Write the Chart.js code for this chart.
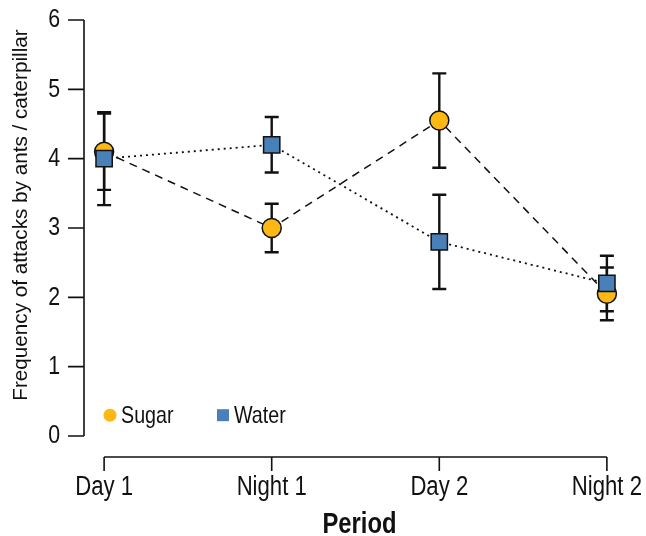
<!DOCTYPE html>
<html>
<head>
<meta charset="utf-8">
<script src="https://cdn.jsdelivr.net/npm/chart.js@4/dist/chart.umd.min.js"></script>
<style>
  html, body { margin: 0; padding: 0; background: #fff; }
  #wrap { width: 646px; height: 536px; }
</style>
</head>
<body>
<div id="wrap"><canvas id="chart" width="646" height="536"></canvas></div>
<script>
/**
 *  Data
 */
var periods = ["Day 1", "Night 1", "Day 2", "Night 2"];
var sugar_mean = [4.1, 3.0, 4.55, 2.05];
var sugar_err = [0.55, 0.35, 0.68, 0.38];
var water_mean = [4.0, 4.2, 2.8, 2.2];
var water_err = [0.67, 0.4, 0.68, 0.4];
var y_ticks = [0, 1, 2, 3, 4, 5, 6];

var sugar_color = "#FDB813";
var water_color = "#4A80B8";
var font_name = "'Liberation Sans', Arial, sans-serif";
var narrow = 0.82; // no narrow font installed, squeeze the glyphs instead

var toPoints = function (values) {
    return values.map(function (v, i) { return { x: i, y: v }; });
};

// condensed text: x, y is the anchor, angle in radians
var drawText = function (ctx, text, x, y, font, align, angle, sx, baseline) {
    ctx.save();
    ctx.translate(x, y);
    if (angle) ctx.rotate(angle);
    ctx.scale(sx || narrow, 1);
    ctx.font = font;
    ctx.textAlign = align;
    ctx.textBaseline = baseline || "middle";
    ctx.fillText(text, 0, 0);
    ctx.restore();
};

/**
 *  Error bars + R style axes
 */
var errorBars = {
    id: "errorBars",
    beforeDatasetsDraw: function (chart) {
        var ctx = chart.ctx;
        var xs = chart.scales.x, ys = chart.scales.y;
        ctx.save();
        ctx.strokeStyle = "#111";
        ctx.lineWidth = 2.4;
        [[sugar_mean, sugar_err], [water_mean, water_err]].forEach(function (s) {
            s[0].forEach(function (m, i) {
                var px = xs.getPixelForValue(i);
                var top = ys.getPixelForValue(m + s[1][i]);
                var bot = ys.getPixelForValue(m - s[1][i]);
                ctx.beginPath();
                ctx.moveTo(px, top); ctx.lineTo(px, bot);
                ctx.moveTo(px - 7, top); ctx.lineTo(px + 7, top);
                ctx.moveTo(px - 7, bot); ctx.lineTo(px + 7, bot);
                ctx.stroke();
            });
        });
        ctx.restore();
    }
};

var axes = {
    id: "axes",
    afterDraw: function (chart) {
        var ctx = chart.ctx;
        var xs = chart.scales.x, ys = chart.scales.y;
        var area = chart.chartArea;
        ctx.save();
        ctx.strokeStyle = "#111";
        ctx.fillStyle = "#111";
        ctx.lineWidth = 1.6;

        // y axis
        var ax = area.left;
        ctx.beginPath();
        ctx.moveTo(ax, ys.getPixelForValue(y_ticks[0]));
        ctx.lineTo(ax, ys.getPixelForValue(y_ticks[y_ticks.length - 1]));
        y_ticks.forEach(function (t) {
            var py = ys.getPixelForValue(t);
            ctx.moveTo(ax - 16, py); ctx.lineTo(ax, py);
        });
        ctx.stroke();
        y_ticks.forEach(function (t) {
            drawText(ctx, String(t), ax - 24, ys.getPixelForValue(t), "26px " + font_name, "right");
        });

        // x axis
        var ay = area.bottom + 21;
        ctx.beginPath();
        ctx.moveTo(xs.getPixelForValue(0), ay);
        ctx.lineTo(xs.getPixelForValue(periods.length - 1), ay);
        periods.forEach(function (p, i) {
            var px = xs.getPixelForValue(i);
            ctx.moveTo(px, ay); ctx.lineTo(px, ay + 14);
        });
        ctx.stroke();
        periods.forEach(function (p, i) {
            drawText(ctx, p, xs.getPixelForValue(i), ay + 31, "27px " + font_name, "center");
        });

        // titles
        drawText(ctx, "Period", (xs.getPixelForValue(0) + xs.getPixelForValue(3)) / 2 + 4, ay + 76,
            "bold 29px " + font_name, "center", 0, narrow, "alphabetic");
        drawText(ctx, "Frequency of attacks by ants / caterpillar", 27, 215,
            "20.7px " + font_name, "center", -Math.PI / 2, 1, "alphabetic");

        // legend
        var ly = ys.getPixelForValue(0.3);
        ctx.fillStyle = sugar_color;
        ctx.beginPath();
        ctx.arc(110, ly, 6.5, 0, Math.PI * 2);
        ctx.fill();
        ctx.fillStyle = water_color;
        ctx.fillRect(217, ly - 6, 12, 12);
        ctx.fillStyle = "#111";
        drawText(ctx, "Sugar", 121, ly + 1, "24px " + font_name, "left");
        drawText(ctx, "Water", 234, ly + 1, "24px " + font_name, "left");
        ctx.restore();
    }
};

new Chart(document.getElementById("chart"), {
    type: "line",
    data: {
        datasets: [{
            label: "Sugar",
            data: toPoints(sugar_mean),
            order: 2,
            borderColor: "#111",
            borderWidth: 1.5,
            borderDash: [8, 6],
            pointStyle: "circle",
            pointRadius: 9.5,
            pointBackgroundColor: sugar_color,
            pointBorderColor: "#111",
            pointBorderWidth: 1.5,
            clip: false
        }, {
            label: "Water",
            data: toPoints(water_mean),
            order: 1,
            borderColor: "#111",
            borderWidth: 1.8,
            borderDash: [2, 4],
            pointStyle: "rect",
            pointRadius: 11.5,
            pointBackgroundColor: water_color,
            pointBorderColor: "#111",
            pointBorderWidth: 1.5,
            clip: false
        }]
    },
    options: {
        responsive: false,
        animation: false,
        events: [],
        layout: { padding: { left: 84, right: 19, top: 20, bottom: 100 } },
        scales: {
            x: { type: "linear", min: -0.12, max: 3.12, display: false },
            y: { type: "linear", min: 0, max: 6, display: false }
        },
        plugins: {
            legend: { display: false },
            tooltip: { enabled: false }
        }
    },
    plugins: [errorBars, axes]
});
</script>
</body>
</html>
